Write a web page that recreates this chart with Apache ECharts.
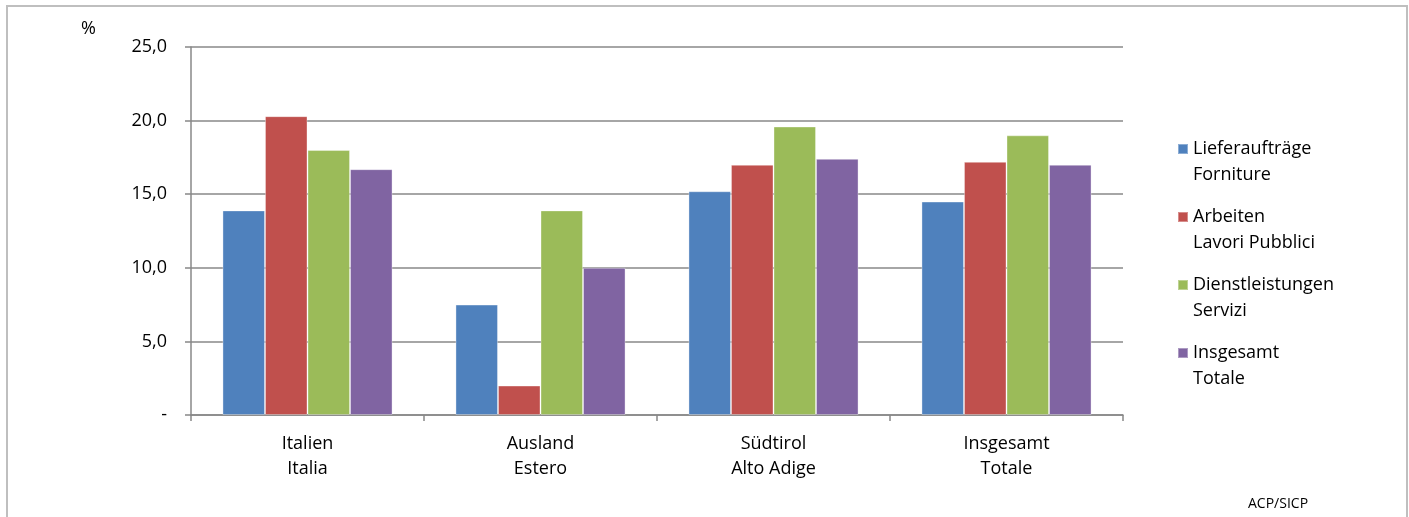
<!DOCTYPE html>
<html>
<head>
<meta charset="utf-8">
<script src="https://cdn.jsdelivr.net/npm/echarts@6/dist/echarts.min.js"></script>
<style>html,body{margin:0;padding:0;background:#fff}#c{width:1409px;height:517px}</style>
</head>
<body>
<div id="c"></div>
<script>
const categories = ['Italien\nItalia', 'Ausland\nEstero', 'Südtirol\nAlto Adige', 'Insgesamt\nTotale'];
const seriesNames = ['Lieferaufträge\nForniture', 'Arbeiten\nLavori Pubblici', 'Dienstleistungen\nServizi', 'Insgesamt\nTotale'];
const lieferauftraege = [13.9, 7.5, 15.2, 14.5];
const arbeiten = [20.3, 2.0, 17.0, 17.2];
const dienstleistungen = [18.0, 13.9, 19.6, 19.0];
const insgesamt = [16.7, 10.0, 17.4, 17.0];
const colors = ['#4F81BD', '#C0504D', '#9BBB59', '#8064A2'];
const values = [lieferauftraege, arbeiten, dienstleistungen, insgesamt];

const FONT = 'Open Sans';
const chart = echarts.init(document.getElementById('c'), null, {renderer: 'canvas'});
chart.setOption({
  animation: false,
  textStyle: {fontFamily: FONT},
  graphic: [
    {type: 'rect', shape: {x: 7, y: 6, width: 1400, height: 530}, style: {fill: 'none', stroke: '#bfbfbf', lineWidth: 2}},
    {type: 'text', left: 81, top: 20, style: {text: '%', font: '18px ' + FONT, fill: '#000'}},
    {type: 'text', left: 1248, top: 497, style: {text: 'ACP/SICP', font: '14px ' + FONT, fill: '#000'}}
  ],
  grid: {left: 191, right: 286, top: 47, bottom: 102, containLabel: false},
  legend: {
    orient: 'vertical', left: 1177, top: 110, padding: 0,
    itemWidth: 10, itemHeight: 10, itemGap: -10, icon: 'rect',
    formatter: n => ' \n' + n,
    textStyle: {fontSize: 18, lineHeight: 26, color: '#000', fontFamily: FONT},
    data: seriesNames
  },
  xAxis: {
    type: 'category', data: categories,
    axisLine: {lineStyle: {color: '#888', width: 1.5}},
    axisTick: {show: true, length: 6, lineStyle: {color: '#888', width: 1.5}},
    axisLabel: {fontSize: 18, color: '#000', lineHeight: 25, margin: 16, fontFamily: FONT}
  },
  yAxis: {
    type: 'value', min: 0, max: 25, interval: 5,
    axisLine: {show: true, lineStyle: {color: '#888', width: 1.5}},
    axisTick: {show: true, length: 6, lineStyle: {color: '#888', width: 1.5}},
    splitLine: {lineStyle: {color: '#888', width: 1.5}},
    axisLabel: {fontSize: 18, color: '#000', margin: 24, fontFamily: FONT,
      formatter: v => v === 0 ? '-' : v.toFixed(1).replace('.', ',')}
  },
  series: seriesNames.map((n, i) => ({
    name: n, type: 'bar', data: values[i],
    barGap: '0%', barCategoryGap: '27%',
    itemStyle: {color: colors[i], borderColor: 'rgba(255,255,255,0.35)', borderWidth: 1}
  }))
});
</script>
</body>
</html>
